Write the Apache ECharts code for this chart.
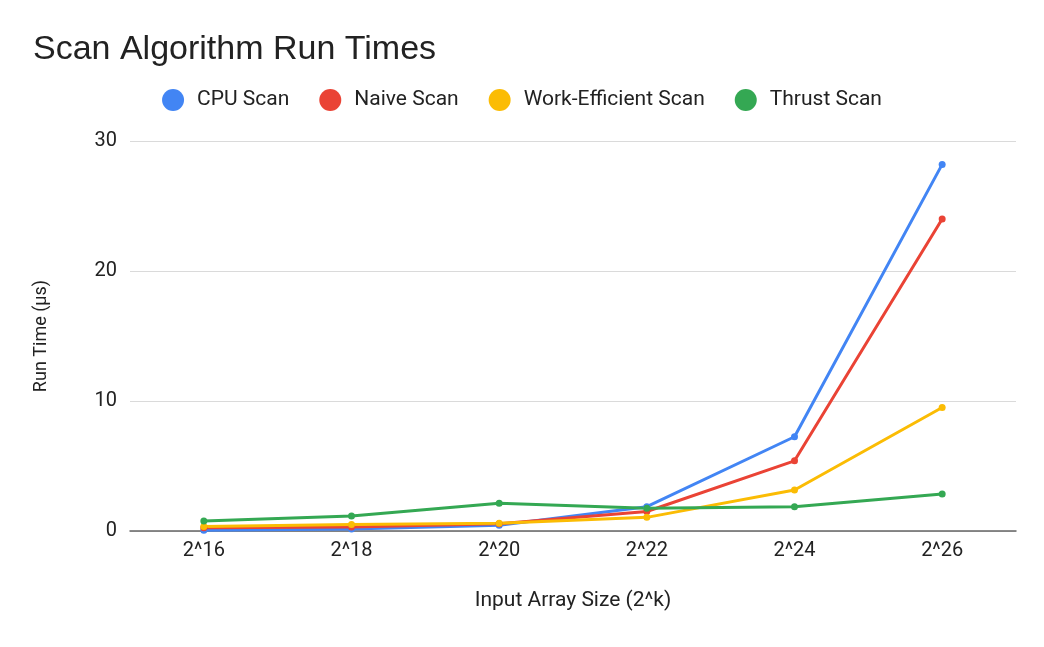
<!DOCTYPE html>
<html><head><meta charset="utf-8">
<script src="https://cdn.jsdelivr.net/npm/echarts@6/dist/echarts.min.js"></script>
<style>html,body{margin:0;padding:0;background:#fff}#c{width:1044px;height:647px}</style>
</head><body><div id="c"></div>
<script>
const categories = ['2^16','2^18','2^20','2^22','2^24','2^26'];
const cpuScan = [0.05, 0.15, 0.45, 1.87, 7.25, 28.2];
const naiveScan = [0.25, 0.3, 0.55, 1.5, 5.4, 24.0];
const workEfficientScan = [0.35, 0.5, 0.6, 1.05, 3.15, 9.5];
const thrustScan = [0.77, 1.15, 2.13, 1.75, 1.87, 2.85];
const seriesNames = ['CPU Scan','Naive Scan','Work-Efficient Scan','Thrust Scan'];
const colors = ['#4285f4','#ea4335','#fbbc04','#34a853'];
const FONT = 'Roboto, Arial, sans-serif';
const chart = echarts.init(document.getElementById('c'));
const mk = (name, data, color) => ({
  name, type:'line', data, color,
  symbol:'circle', symbolSize:7, showSymbol:true,
  lineStyle:{width:3, color}, itemStyle:{color}
});
chart.setOption({
  animation:false,
  title:{text:'Scan Algorithm Run Times', left:28, top:28,
    textStyle:{fontFamily:'"Liberation Sans", Arial, sans-serif', fontSize:34, fontWeight:'normal', color:'#222'}},
  legend:{top:84, left:'center', itemGap:30, itemWidth:22, itemHeight:22, icon:'circle',
    textStyle:{fontFamily:FONT, fontSize:21, color:'#222', padding:[0,0,0,8]},
    data:seriesNames},
  grid:{left:130, right:28, top:141, bottom:116},
  xAxis:{type:'category', data:categories, boundaryGap:true,
    name:'Input Array Size (2^k)', nameLocation:'middle', nameGap:59,
    nameTextStyle:{fontFamily:FONT, fontSize:21, color:'#222'},
    axisLine:{lineStyle:{color:'#666', width:1.5}}, axisTick:{show:false},
    axisLabel:{fontFamily:FONT, fontSize:20, color:'#222', margin:10}},
  yAxis:{type:'value', min:0, max:30, interval:10,
    name:'Run Time (µs)', nameLocation:'middle', nameGap:80, nameRotate:90,
    nameTextStyle:{fontFamily:FONT, fontSize:18, color:'#222'},
    axisLabel:{fontFamily:FONT, fontSize:20, color:'#222', margin:13},
    splitLine:{lineStyle:{color:'#dadada', width:1}}},
  series:[mk(seriesNames[0], cpuScan, colors[0]), mk(seriesNames[1], naiveScan, colors[1]),
          mk(seriesNames[2], workEfficientScan, colors[2]), mk(seriesNames[3], thrustScan, colors[3])]
});
</script></body></html>
